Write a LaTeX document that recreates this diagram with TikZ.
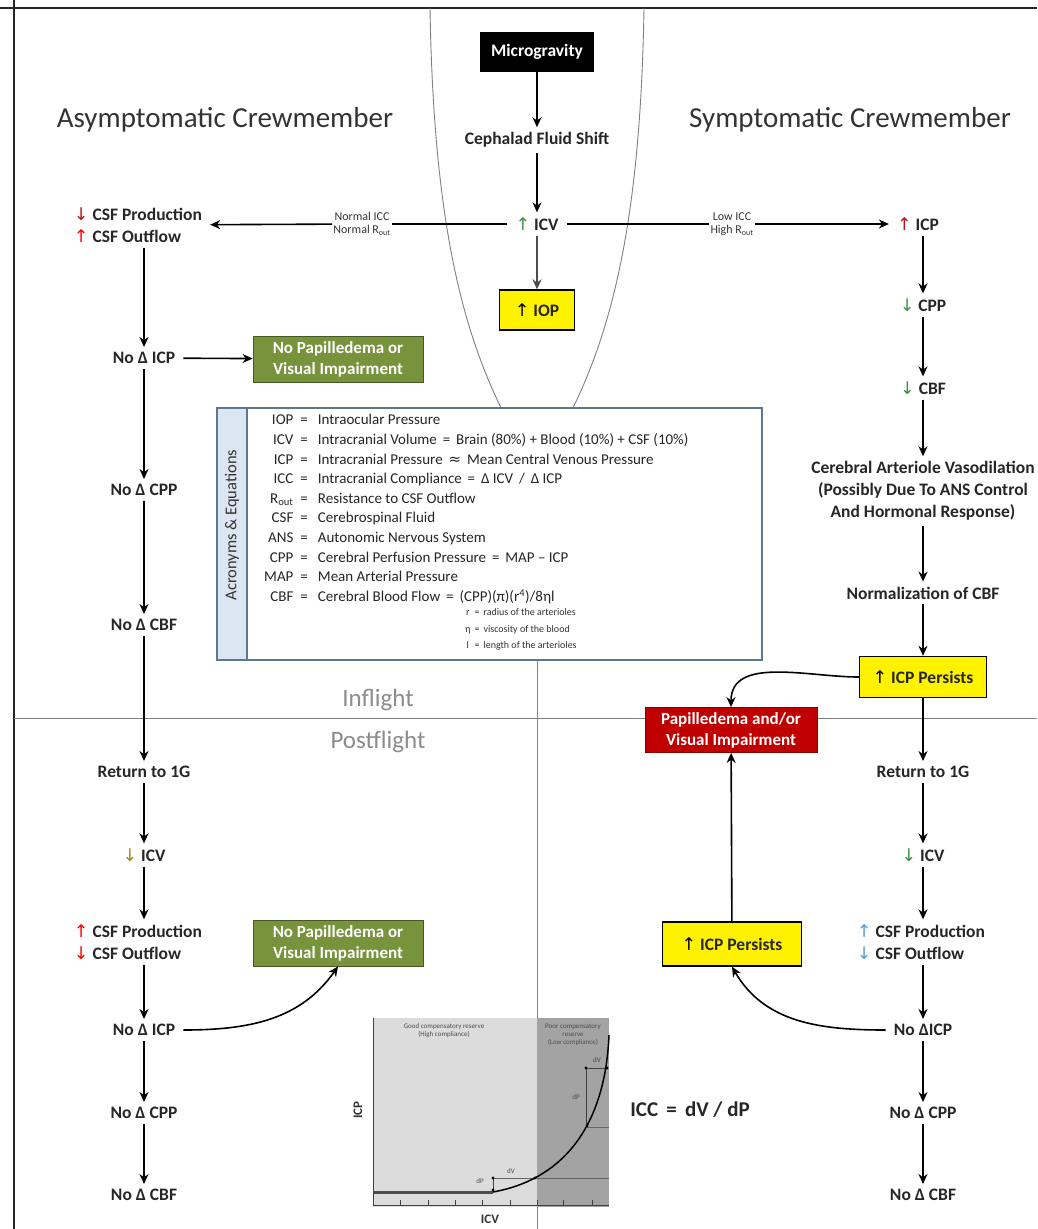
\documentclass[tikz,border=0pt]{standalone}
\usepackage{fontspec}
\setmainfont{Carlito}
\newfontfamily\symf{DejaVu Sans}
\usetikzlibrary{arrows.meta}
\definecolor{upgreen}{HTML}{3E8E41}
\definecolor{dkred}{HTML}{B01818}
\definecolor{olivearr}{HTML}{9A8A20}
\definecolor{bluearr}{HTML}{5B9BD5}
\definecolor{boxgreen}{HTML}{77933C}
\definecolor{boxred}{HTML}{C00000}
\definecolor{legblue}{HTML}{DCE6F2}
\definecolor{legedge}{HTML}{5A7896}
\definecolor{glight}{HTML}{DCDCDC}
\definecolor{gdark}{HTML}{A3A3A3}
\newcommand{\UA}[1]{{\symf\mdseries\color{#1}↑}}
\newcommand{\DA}[1]{{\symf\mdseries\color{#1}↓}}
\tikzset{
  txt/.style={font=\bfseries\fontsize{17.5}{22}\selectfont, text=black!85, align=center, inner xsep=8pt, inner ysep=5pt},
  arr/.style={-{Stealth[length=10pt,width=9pt]}, line width=1.6pt},
  ybox/.style={draw=black, line width=1.4pt, fill=yellow, font=\bfseries\fontsize{17.5}{21}\selectfont, text=black!85, align=center},
  gbox/.style={draw=boxgreen!60!black, line width=0.8pt, fill=boxgreen, font=\bfseries\fontsize{17}{21}\selectfont, text=white, align=center, inner sep=2pt, minimum width=170pt, minimum height=46pt},
  rbox/.style={draw=boxred!70!black, line width=0.8pt, fill=boxred, font=\bfseries\fontsize{17}{21}\selectfont, text=white, align=center, inner sep=2pt, minimum width=172pt, minimum height=45pt},
  cond/.style={font=\fontsize{12}{13.5}\selectfont, text=black!80, align=center, inner sep=1pt},
  title/.style={font=\fontsize{29}{32}\selectfont, text=black!80},
  phase/.style={font=\fontsize{25}{28}\selectfont, text=black!45},
  frame/.style={black!50, line width=0.9pt},
  tiny/.style={font=\fontsize{7}{8}\selectfont, text=black!70, align=center, inner sep=0.5pt},
}
\begin{document}
\begin{tikzpicture}[x=1pt,y=-1pt]
\useasboundingbox (0,0) rectangle (1037,1229);
% frame lines
\draw[black!85, line width=2pt] (0,8) -- (1037,8);
\draw[black!85, line width=1.5pt] (14,0) -- (14,1229);
\draw[frame] (430,8) .. controls (434,250) and (470,370) .. (537,470);
\draw[frame] (644,8) .. controls (640,250) and (604,370) .. (537,470);
\draw[frame] (537,470) -- (537,1229);
\draw[frame] (14,718) -- (1037,718);
\node[phase] (infl) at (378,700) {Inflight};
\node[phase] (postf) at (378,742) {Postflight};
% titles
\node[title] (tA) at (225,120) {Asymptomatic Crewmember};
\node[title] (tS) at (850,120) {Symptomatic Crewmember};
% centre column
\node[fill=black, text=white, font=\bfseries\fontsize{17.5}{21}\selectfont, minimum width=114pt, minimum height=40pt] (mg) at (537,52) {Microgravity};
\node[txt] (ceph) at (537,140) {Cephalad Fluid Shift};
\node[txt] (icv) at (537,224) {\UA{upgreen} ICV};
\node[ybox, minimum width=75pt, minimum height=40pt] (iop) at (537,310) {\UA{black} IOP};
\draw[arr] (mg) -- (ceph);
\draw[arr] (ceph) -- (icv);
\draw[arr, black!70] (icv) -- (iop);
\node[cond] (condL) at (362,224) {Normal ICC\\Normal R\textsubscript{out}};
\node[cond] (condR) at (732,224) {Low ICC\\High R\textsubscript{out}};
\node[txt, align=left] (csf1) at (138,225) {\DA{dkred} CSF Production\\\UA{red} CSF Outflow};
\node[txt] (icpR) at (918,224) {\UA{dkred} ICP};
\draw[line width=1.6pt] (icv) -- (condL);
\draw[arr] (condL) -- (csf1);
\draw[line width=1.6pt] (icv) -- (condR);
\draw[arr] (condR) -- (icpR);
% left column inflight
\node[txt] (nicp1) at (144,358) {No Δ ICP};
\node[gbox] (gb1) at (338,359) {No Papilledema or\\Visual Impairment};
\node[txt] (ncpp1) at (144,490) {No Δ CPP};
\node[txt] (ncbf1) at (144,625) {No Δ CBF};
\draw[arr] (csf1.south -| nicp1) -- (nicp1);
\draw[arr] (nicp1) -- (gb1);
\draw[arr] (nicp1) -- (ncpp1);
\draw[arr] (ncpp1) -- (ncbf1);
% left column postflight
\node[txt] (ret1) at (144,772) {Return to 1G};
\node[txt] (icv2) at (144,855) {\DA{olivearr} ICV};
\node[txt, align=left] (csf2) at (138,942) {\UA{red} CSF Production\\\DA{red} CSF Outflow};
\node[txt] (nicp2) at (144,1030) {No Δ ICP};
\node[gbox] (gb2) at (338,943) {No Papilledema or\\Visual Impairment};
\node[txt] (ncpp2) at (144,1113) {No Δ CPP};
\node[txt] (ncbf2) at (144,1195) {No Δ CBF};
\draw[arr] (ncbf1) -- (ret1);
\draw[arr] (ret1) -- (icv2);
\draw[arr] (icv2) -- (csf2.north -| icv2);
\draw[arr] (csf2.south -| nicp2) -- (nicp2);
\draw[arr] (nicp2.east) to[out=0,in=-125] (gb2.south);
\draw[arr] (nicp2) -- (ncpp2);
\draw[arr] (ncpp2) -- (ncbf2);
% right column inflight
\node[txt] (cpp) at (923,305) {\DA{upgreen} CPP};
\node[txt] (cbf) at (923,388) {\DA{upgreen} CBF};
\node[txt] (vaso) at (923,491) {Cerebral Arteriole Vasodilation\\(Possibly Due To ANS Control\\And Hormonal Response)};
\node[txt] (norm) at (923,593) {Normalization of CBF};
\node[ybox, minimum width=127pt, minimum height=41pt] (pers1) at (923,677) {\UA{black} ICP Persists};
\node[rbox] (pap) at (731,730) {Papilledema and/or\\Visual Impairment};
\draw[arr] (icpR.south -| cpp) -- (cpp);
\draw[arr] (cpp) -- (cbf);
\draw[arr] (cbf) -- (vaso);
\draw[arr] (vaso) -- (norm);
\draw[arr] (norm) -- (pers1);
\draw[arr] (pers1.west) to[out=180,in=90] (pap.north);
% right column postflight
\node[txt] (ret2) at (923,772) {Return to 1G};
\node[txt] (icv3) at (923,855) {\DA{upgreen} ICV};
\node[txt, align=left] (csf3) at (921,942) {\UA{bluearr} CSF Production\\\DA{bluearr} CSF Outflow};
\node[txt] (nicp3) at (923,1030) {No ΔICP};
\node[ybox, minimum width=139pt, minimum height=44pt] (pers2) at (732,944) {\UA{black} ICP Persists};
\node[txt] (ncpp3) at (923,1113) {No Δ CPP};
\node[txt] (ncbf3) at (923,1195) {No Δ CBF};
\draw[arr] (pers1) -- (ret2);
\draw[arr] (ret2) -- (icv3);
\draw[arr] (icv3) -- (csf3.north -| icv3);
\draw[arr] (csf3.south -| nicp3) -- (nicp3);
\draw[arr] (nicp3.west) to[out=180,in=-60] (pers2.south);
\draw[arr] (pers2) -- (pap);
\draw[arr] (nicp3) -- (ncpp3);
\draw[arr] (ncpp3) -- (ncbf3);
% legend
\filldraw[fill=white, draw=legedge, line width=1.5pt] (217,408) rectangle (762,660);
\filldraw[fill=legblue, draw=legedge, line width=1.5pt] (217,408) rectangle (247,660);
\node[rotate=90, font=\fontsize{16.5}{18}\selectfont, text=black!80] (legtitle) at (232,525) {Acronyms \& Equations};
\node[anchor=north west, inner sep=0, font=\fontsize{15}{19.6}\selectfont, text=black!85] (legtext) at (264,411) {%
\begin{tabular}{@{}r@{\hspace{7pt}=\hspace{10pt}}l@{}}
IOP & Intraocular Pressure\\
ICV & Intracranial Volume \,=\, Brain (80\%) + Blood (10\%) + CSF (10\%)\\
ICP & Intracranial Pressure \,{\symf ≈}\, Mean Central Venous Pressure\\
ICC & Intracranial Compliance \,=\, Δ ICV \,/\, Δ ICP\\
R\textsubscript{out} & Resistance to CSF Outflow\\
CSF & Cerebrospinal Fluid\\
ANS & Autonomic Nervous System\\
CPP & Cerebral Perfusion Pressure \,=\, MAP -- ICP\\
MAP & Mean Arterial Pressure\\
CBF & Cerebral Blood Flow \,=\, (CPP)(π)(r\textsuperscript{4})/8ηl
\end{tabular}};
\node[anchor=north west, inner sep=0, font=\fontsize{10}{16.5}\selectfont, text=black!80] (legsub) at (465,604) {%
\begin{tabular}{@{}c@{\hspace{4pt}=\hspace{4pt}}l@{}}
r & radius of the arterioles\\
η & viscosity of the blood\\
l & length of the arterioles
\end{tabular}};
% graph
\fill[glight] (373,1018) rectangle (537,1207);
\fill[gdark] (537,1018) rectangle (609,1207);
\draw[black!75, line width=1pt] (373,1018) -- (373,1205) -- (609,1205);
\foreach \tx in {400,428,455,482,510,537,563,592} \draw[black!75, line width=0.8pt] (\tx,1205) -- (\tx,1200);
\draw[black!60, line width=0.6pt] (493,1178) -- (609,1178);
\draw[black!60, line width=0.6pt] (587,1127) -- (609,1127);
\draw[black!75, line width=0.6pt] (586,1068) -- (607,1068);
\draw[black!75, line width=0.6pt] (586,1068) -- (586,1126);
\draw[black!75, line width=0.6pt] (493,1178) -- (493,1192);
\draw[black!70, line width=3pt] (373,1192) -- (493,1192);
\draw[black, line width=1.5pt] (493,1192) .. controls (560,1180) and (605,1130) .. (609,1035);
\foreach \dx/\dy in {493/1178,493/1190,535/1178,586/1068,607/1068,587/1126} \fill (\dx,\dy) circle (1.6pt);
\node[tiny] (gdP1) at (480,1181) {dP};
\node[tiny] (gdV1) at (511,1171) {dV};
\node[tiny] (gdV2) at (597,1060) {dV};
\node[tiny] (gdP2) at (576,1097) {dP};
\node[tiny] (ggood) at (444,1031) {Good compensatory reserve\\(High compliance)};
\node[tiny] (gpoor) at (573,1035) {Poor compensatory\\reserve\\(Low compliance)};
\node[rotate=90, font=\bfseries\fontsize{13}{15}\selectfont, text=black!80] (gicp) at (358,1110) {ICP};
\node[font=\bfseries\fontsize{13}{15}\selectfont, text=black!80] (gicv) at (490,1219) {ICV};
\node[font=\bfseries\fontsize{21}{24}\selectfont, text=black!85] (iccf) at (690,1110) {ICC \,=\, dV / dP};
\end{tikzpicture}
\end{document}
